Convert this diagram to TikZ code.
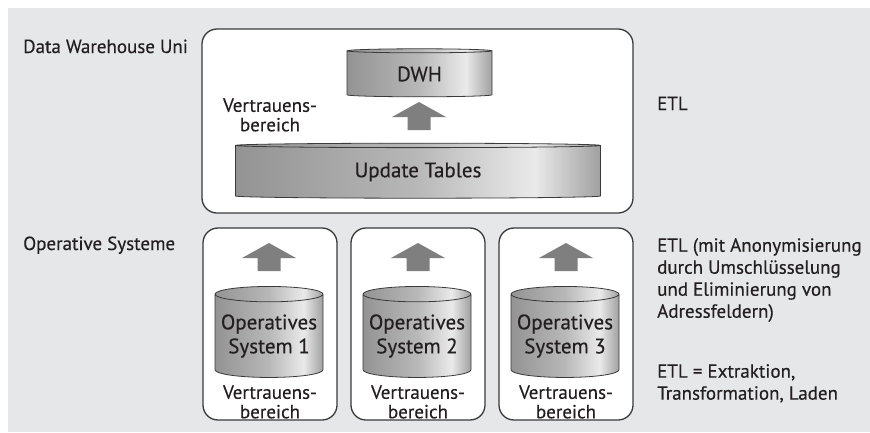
\documentclass[tikz,border=0pt]{standalone}
\usepackage{fontspec}
\setmainfont[FakeBold=0.35]{PT Sans}
\usetikzlibrary{positioning,shapes.geometric}
\definecolor{bgrey}{HTML}{E6E7E8}
\definecolor{frame}{HTML}{3A3A3A}
\definecolor{blk}{HTML}{7F7F7F}
\definecolor{ink}{HTML}{231F20}
\definecolor{cylA}{HTML}{939393}
\definecolor{cylB}{HTML}{B8B8B8}
\definecolor{cylC}{HTML}{EAEAEA}
\definecolor{cylD}{HTML}{A0A0A0}
\pgfdeclarehorizontalshading{cylshade}{100bp}{color(0bp)=(cylA); color(25bp)=(cylA); color(50bp)=(cylB); color(66bp)=(cylC); color(75bp)=(cylD); color(100bp)=(cylD)}
\begin{document}
\begin{tikzpicture}[x=1pt,y=-1pt,node distance=148pt,
  lbl/.style={text=ink,font=\fontsize{19}{22}\selectfont,inner sep=0pt},
  vb/.style={lbl,align=center,font=\fontsize{19}{19.5}\selectfont},
  box/.style={draw=frame,line width=1.3pt,fill=white,rounded corners=15pt,inner sep=0pt},
  db/.style={cylinder,shape border rotate=90,draw=frame,line width=0.8pt,shading=cylshade,
    text=ink,font=\fontsize{21}{24}\selectfont,inner sep=0pt,align=center},
  uparrow/.pic={\fill[blk] (0,0) -- (27,15) -- (11.5,15) -- (11.5,28)
    -- (-11.5,28) -- (-11.5,15) -- (-27,15) -- cycle;}]
  % background
  \useasboundingbox (0,0) rectangle (870,432);
  \fill[bgrey] (8,8) rectangle (870,432);
  % frames
  \node[box,minimum width=431pt,minimum height=184pt] (U) at (417.5,121) {};
  \node[box,minimum width=134pt,minimum height=192pt] (B1) at (270,324) {};
  \node[box,minimum width=134pt,minimum height=192pt] (B2) [right of=B1] {};
  \node[box,minimum width=134pt,minimum height=192pt] (B3) [right of=B2] {};
  % data stores
  \node[db,minimum width=145pt,minimum height=48pt,aspect=0.09] (1) at (419.5,74) {DWH};
  \node[db,minimum width=365pt,minimum height=55pt,aspect=0.035] (2) at (418,172) {Update Tables};
  \node[db,minimum width=108pt,minimum height=91pt,aspect=0.16] (3) at (269,336) {Operatives\\System 1};
  \node[db,minimum width=108pt,minimum height=91pt,aspect=0.16] (4) [right of=3] {Operatives\\System 2};
  \node[db,minimum width=108pt,minimum height=91pt,aspect=0.16] (5) [right of=4] {Operatives\\System 3};
  % arrows
  \pic at (419,102) {uparrow};
  \pic at (269,243) {uparrow};
  \pic at (418,243) {uparrow};
  \pic at (566,243) {uparrow};
  % labels
  \node[vb] (v0) at (270,115) {Vertrauens-\\bereich};
  \node[vb] (v1) at (270,402) {Vertrauens-\\bereich};
  \node[vb] (v2) [right of=v1] {Vertrauens-\\bereich};
  \node[vb] (v3) [right of=v2] {Vertrauens-\\bereich};
  \node[lbl,anchor=base west] (dw) at (23,53) {Data Warehouse Uni};
  \node[lbl,anchor=base west] (os) at (23,250) {Operative Systeme};
  \node[lbl,anchor=base west] (e0) at (657,110) {ETL};
  \node[lbl,anchor=north west,align=left] (e1) at (657,238)
    {ETL (mit Anonymisierung\\durch Umschlüsselung\\und Eliminierung von\\Adressfeldern)};
  \node[lbl,anchor=north west,align=left] (e2) at (657,364)
    {ETL = Extraktion,\\Transformation, Laden};
\end{tikzpicture}
\end{document}
